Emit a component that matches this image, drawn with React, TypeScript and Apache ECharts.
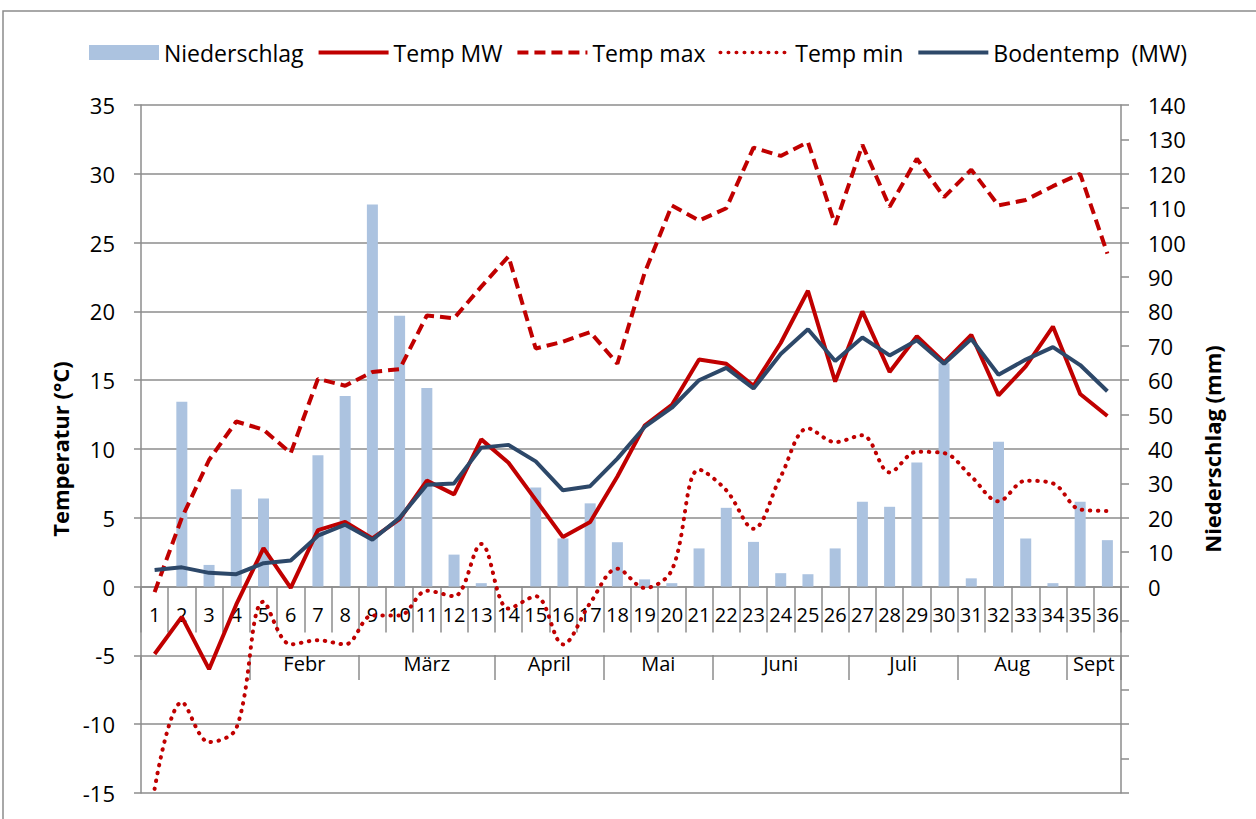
import React, { useEffect, useRef } from 'react';
import * as echarts from 'echarts';

const weeks = ['1','2','3','4','5','6','7','8','9','10','11','12','13','14','15','16','17','18','19','20','21','22','23','24','25','26','27','28','29','30','31','32','33','34','35','36'];
const monthNames = ['', 'Febr', 'März', 'April', 'Mai', 'Juni', 'Juli', 'Aug', 'Sept'];
const monthBounds = [0, 4, 8, 13, 17, 21, 26, 30, 34, 36];

const niederschlag = [0, 53.7, 6.3, 28.3, 25.6, 0, 38.2, 55.4, 111.1, 78.7, 57.7, 9.3, 1.0, 0, 28.8, 14.0, 24.2, 12.9, 2.1, 1.0, 11.1, 22.9, 13.0, 3.9, 3.6, 11.1, 24.7, 23.2, 36.1, 64.9, 2.4, 42.1, 14.0, 1.0, 24.7, 13.5];
const tempMW = [-4.9, -2.2, -6.0, -1.3, 2.8, -0.1, 4.1, 4.7, 3.5, 4.9, 7.7, 6.7, 10.7, 9.0, 6.3, 3.6, 4.7, 8.0, 11.7, 13.2, 16.5, 16.2, 14.6, 17.7, 21.5, 14.9, 20.0, 15.6, 18.2, 16.3, 18.3, 13.9, 16.0, 18.9, 14.0, 12.4];
const tempMax = [-0.4, 5.0, 9.2, 12.0, 11.4, 9.7, 15.1, 14.6, 15.6, 15.8, 19.7, 19.5, 21.8, 24.0, 17.3, 17.8, 18.5, 16.2, 22.8, 27.7, 26.6, 27.5, 31.9, 31.3, 32.3, 26.3, 32.1, 27.6, 31.1, 28.3, 30.3, 27.7, 28.1, 29.1, 30.0, 24.2];
const tempMin = [-14.7, -8.4, -11.3, -10.3, -1.1, -4.2, -3.9, -4.2, -2.1, -2.1, -0.3, -0.7, 3.1, -1.6, -0.7, -4.2, -1.2, 1.3, -0.1, 1.2, 8.5, 7.0, 4.2, 8.0, 11.5, 10.5, 11.0, 8.3, 9.8, 9.7, 8.0, 6.2, 7.7, 7.5, 5.6, 5.5];
const bodenTemp = [1.2, 1.4, 1.0, 0.9, 1.7, 1.9, 3.7, 4.5, 3.4, 5.0, 7.4, 7.5, 10.1, 10.3, 9.1, 7.0, 7.3, 9.3, 11.6, 13.0, 15.0, 15.9, 14.4, 16.9, 18.7, 16.4, 18.1, 16.8, 17.9, 16.2, 18.0, 15.4, 16.5, 17.4, 16.1, 14.2];

const FONT = 'Open Sans';
const GREY = '#8c8c8c';
const RED = '#c00000';
const NAVY = '#2d4869';
const BLUE = '#acc3e0';

export default function App() {
  const ref = useRef<HTMLDivElement>(null);
  useEffect(() => {
    if (!ref.current) return;
    const chart = echarts.init(ref.current, undefined, { renderer: 'svg' });
    const monthCenters = monthNames.map((_, i) => (monthBounds[i] + monthBounds[i + 1]) / 2);
    const axisLine = { color: GREY, width: 1.5 };
    const hideSym = { opacity: 0 };
    const option: any = {
      animation: false,
      backgroundColor: '#ffffff',
      textStyle: { fontFamily: FONT, color: '#000' },
      graphic: [
        {
          type: 'rect',
          silent: true,
          shape: { x: 3, y: 11, width: 1300, height: 900 },
          style: { fill: 'none', stroke: GREY, lineWidth: 1.5 },
        },
      ],
      legend: {
        left: 84,
        top: 36,
        itemWidth: 70,
        itemHeight: 15,
        itemGap: 13,
        textStyle: { fontFamily: FONT, fontSize: 23, color: '#000' },
        data: [
          { name: 'Niederschlag', icon: 'rect' },
          { name: 'Temp MW', itemStyle: hideSym, lineStyle: { width: 4 } },
          { name: 'Temp max', itemStyle: hideSym, lineStyle: { width: 4 } },
          { name: 'Temp min', itemStyle: hideSym, lineStyle: { width: 3.5 } },
          { name: 'Bodentemp  (MW)', itemStyle: hideSym, lineStyle: { width: 4 } },
        ],
      },
      grid: { left: 141, right: 135, top: 105, bottom: 26, containLabel: false, outerBoundsMode: 'none' },
      xAxis: [
        {
          type: 'category',
          data: weeks,
          position: 'bottom',
          boundaryGap: true,
          axisLine: { show: true, onZero: true, onZeroAxisIndex: 0, lineStyle: axisLine },
          axisTick: { show: true, interval: 0, alignWithLabel: false, length: 46, lineStyle: axisLine },
          axisLabel: { interval: 0, margin: -189, fontSize: 20, color: '#000', fontFamily: FONT },
          splitLine: { show: false },
        },
        {
          type: 'value',
          min: 0,
          max: 36,
          position: 'bottom',
          offset: -138,
          axisLine: { show: false, onZero: false },
          axisTick: { show: true, customValues: monthBounds, length: 25, lineStyle: axisLine },
          axisLabel: {
            customValues: monthCenters,
            formatter: (v: number) => {
              const i = monthCenters.findIndex((c) => Math.abs(c - v) < 0.01);
              return i >= 0 ? monthNames[i] : '';
            },
            margin: -2,
            fontSize: 20,
            color: '#000',
            fontFamily: FONT,
          },
          splitLine: { show: false },
        },
      ],
      yAxis: [
        {
          type: 'value',
          min: -15,
          max: 35,
          interval: 5,
          position: 'left',
          name: 'Temperatur (°C)',
          nameLocation: 'middle',
          nameGap: 70,
          nameRotate: 90,
          nameTextStyle: { fontSize: 22, fontWeight: 'bold', color: '#000', fontFamily: FONT },
          axisLine: { show: true, onZero: false, lineStyle: axisLine },
          axisTick: { show: true, length: 7, lineStyle: axisLine },
          axisLabel: { margin: 26, fontSize: 22, color: '#000', fontFamily: FONT },
          splitLine: { show: true, lineStyle: { color: GREY, width: 1.5 } },
        },
        {
          type: 'value',
          min: -60,
          max: 140,
          interval: 10,
          position: 'right',
          name: 'Niederschlag (mm)',
          nameLocation: 'middle',
          nameGap: 80,
          nameRotate: 90,
          nameTextStyle: { fontSize: 22, fontWeight: 'bold', color: '#000', fontFamily: FONT },
          axisLine: { show: true, onZero: false, lineStyle: axisLine },
          axisTick: { show: true, length: 8, lineStyle: axisLine },
          axisLabel: {
            margin: 27,
            fontSize: 22,
            color: '#000',
            fontFamily: FONT,
            formatter: (v: number) => (v < 0 ? '' : String(v)),
          },
          splitLine: { show: false },
        },
      ],
      series: [
        {
          name: 'Niederschlag',
          type: 'bar',
          xAxisIndex: 0,
          yAxisIndex: 1,
          data: niederschlag,
          barWidth: 11,
          itemStyle: { color: BLUE },
        },
        {
          name: 'Temp MW',
          type: 'line',
          xAxisIndex: 0,
          yAxisIndex: 0,
          data: tempMW,
          symbol: 'none',
          lineStyle: { color: RED, width: 4 },
          itemStyle: { color: RED },
        },
        {
          name: 'Temp max',
          type: 'line',
          xAxisIndex: 0,
          yAxisIndex: 0,
          data: tempMax,
          symbol: 'none',
          lineStyle: { color: RED, width: 4, type: [11, 6] },
          itemStyle: { color: RED },
        },
        {
          name: 'Temp min',
          type: 'line',
          xAxisIndex: 0,
          yAxisIndex: 0,
          data: tempMin,
          symbol: 'none',
          smooth: 0.35,
          lineStyle: { color: RED, width: 4, type: [0.5, 7.5], cap: 'round' },
          itemStyle: { color: RED },
        },
        {
          name: 'Bodentemp  (MW)',
          type: 'line',
          xAxisIndex: 0,
          yAxisIndex: 0,
          data: bodenTemp,
          symbol: 'none',
          lineStyle: { color: NAVY, width: 4 },
          itemStyle: { color: NAVY },
        },
      ],
    };
    chart.setOption(option);
    return () => chart.dispose();
  }, []);
  return <div ref={ref} style={{ position: 'fixed', left: 0, top: 0, width: 1256, height: 819 }} />;
}
